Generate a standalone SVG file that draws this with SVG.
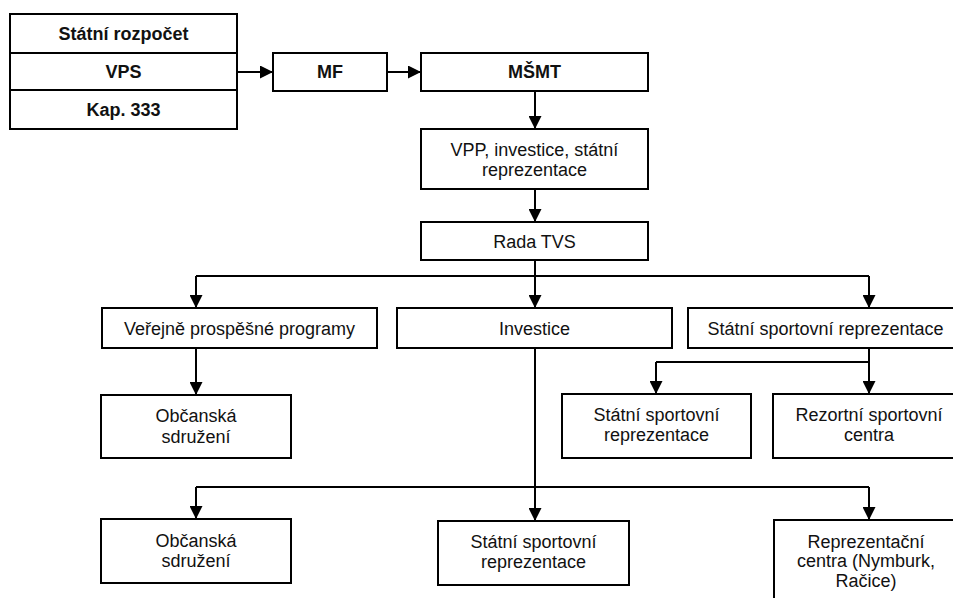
<svg xmlns="http://www.w3.org/2000/svg" width="953" height="598" viewBox="0 0 953 598">
<style>
  .box { fill: #ffffff; stroke: #000000; stroke-width: 2; }
  .t { font-family: "Liberation Sans", Arial, sans-serif; font-size: 18px; fill: #111111; text-anchor: middle; }
  .b { font-weight: bold; }
  .c { fill: none; stroke: #000000; stroke-width: 2; }
</style>
<defs>
  <marker id="ah" markerUnits="userSpaceOnUse" markerWidth="13" markerHeight="13" refX="13" refY="6.5" orient="auto">
    <path d="M0,0 L13,6.5 L0,13 z" fill="#000000"/>
  </marker>
</defs>
<rect width="953" height="598" fill="#ffffff"/>

<g id="connectors">
  <path class="c" d="M237,72 H273" marker-end="url(#ah)"/>
  <path class="c" d="M387,72 H421" marker-end="url(#ah)"/>
  <path class="c" d="M535,91 V129" marker-end="url(#ah)"/>
  <path class="c" d="M535,189 V222" marker-end="url(#ah)"/>
  <path class="c" d="M535,260 V308" marker-end="url(#ah)"/>
  <path class="c" d="M196,276 H869"/>
  <path class="c" d="M196,276 V308" marker-end="url(#ah)"/>
  <path class="c" d="M869,276 V308" marker-end="url(#ah)"/>
  <path class="c" d="M196,348 V395" marker-end="url(#ah)"/>
  <path class="c" d="M869,348 V394" marker-end="url(#ah)"/>
  <path class="c" d="M656,362 H869"/>
  <path class="c" d="M656,362 V394" marker-end="url(#ah)"/>
  <path class="c" d="M535,348 V521" marker-end="url(#ah)"/>
  <path class="c" d="M196,487 H869"/>
  <path class="c" d="M196,487 V519" marker-end="url(#ah)"/>
  <path class="c" d="M869,487 V520" marker-end="url(#ah)"/>
</g>

<g id="statni-rozpocet">
  <rect class="box" x="10" y="14" width="227" height="39"/>
  <text class="t b" x="123.5" y="40">Státní rozpočet</text>
</g>
<g id="vps">
  <rect class="box" x="10" y="53" width="227" height="37"/>
  <text class="t b" x="123.5" y="78">VPS</text>
</g>
<g id="kap333">
  <rect class="box" x="10" y="90" width="227" height="39"/>
  <text class="t b" x="123.5" y="116">Kap. 333</text>
</g>
<g id="mf">
  <rect class="box" x="273" y="53" width="114" height="38"/>
  <text class="t b" x="330" y="78">MF</text>
</g>
<g id="msmt">
  <rect class="box" x="421" y="53" width="227" height="38"/>
  <text class="t b" x="534.5" y="78">MŠMT</text>
</g>
<g id="vpp">
  <rect class="box" x="421" y="129" width="227" height="60"/>
  <text class="t" x="534.5" y="156">VPP, investice, státní</text>
  <text class="t" x="534.5" y="176">reprezentace</text>
</g>
<g id="rada">
  <rect class="box" x="421" y="222" width="227" height="38"/>
  <text class="t" x="534.5" y="247.5">Rada TVS</text>
</g>
<g id="vpp-programy">
  <rect class="box" x="102" y="308" width="275" height="40"/>
  <text class="t" x="239.5" y="334.5">Veřejně prospěšné programy</text>
</g>
<g id="investice">
  <rect class="box" x="397" y="308" width="275" height="40"/>
  <text class="t" x="534.5" y="334.5">Investice</text>
</g>
<g id="ssr-top">
  <rect class="box" x="688" y="308" width="275" height="40"/>
  <text class="t" x="825.5" y="334.5">Státní sportovní reprezentace</text>
</g>
<g id="obcanska-1">
  <rect class="box" x="101" y="395" width="190" height="63"/>
  <text class="t" x="196" y="422">Občanská</text>
  <text class="t" x="196" y="443">sdružení</text>
</g>
<g id="ssr-2">
  <rect class="box" x="562" y="394" width="189" height="64"/>
  <text class="t" x="656.5" y="421">Státní sportovní</text>
  <text class="t" x="656.5" y="441">reprezentace</text>
</g>
<g id="rezortni">
  <rect class="box" x="773" y="394" width="192" height="64"/>
  <text class="t" x="869" y="421">Rezortní sportovní</text>
  <text class="t" x="869" y="441">centra</text>
</g>
<g id="obcanska-2">
  <rect class="box" x="101" y="519" width="190" height="64"/>
  <text class="t" x="196" y="547">Občanská</text>
  <text class="t" x="196" y="567">sdružení</text>
</g>
<g id="ssr-3">
  <rect class="box" x="438" y="521" width="191" height="64"/>
  <text class="t" x="533.5" y="548">Státní sportovní</text>
  <text class="t" x="533.5" y="568">reprezentace</text>
</g>
<g id="reprezentacni-centra">
  <rect class="box" x="774" y="520" width="191" height="90"/>
  <text class="t" x="866" y="548">Reprezentační</text>
  <text class="t" x="866" y="567">centra (Nymburk,</text>
  <text class="t" x="866" y="587">Račice)</text>
</g>
</svg>
